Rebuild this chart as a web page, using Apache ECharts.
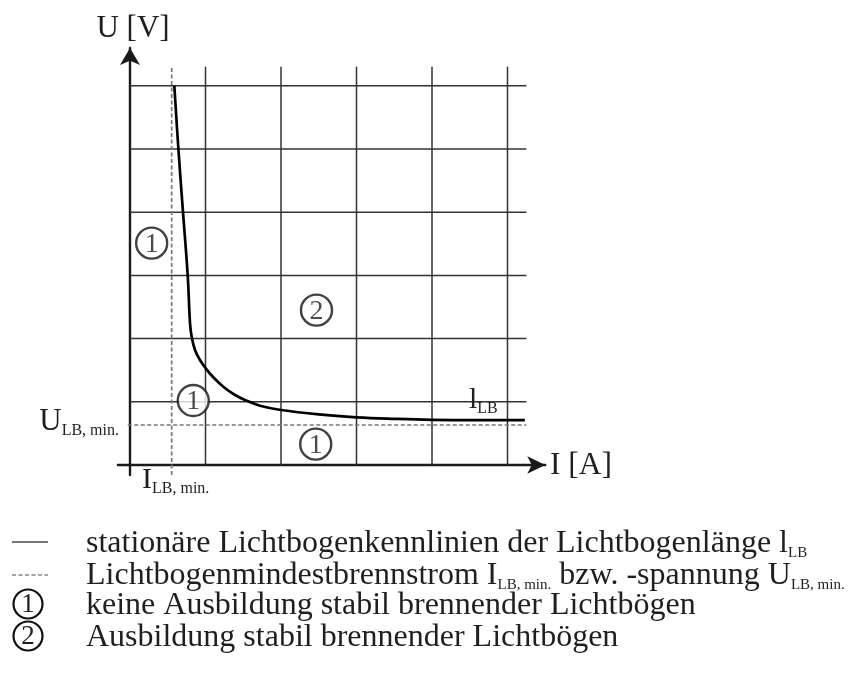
<!DOCTYPE html>
<html>
<head>
<meta charset="utf-8">
<script src="https://cdn.jsdelivr.net/npm/echarts@6/dist/echarts.min.js"></script>
<style>
  html, body { margin: 0; padding: 0; background: #ffffff; }
  #chart { width: 849px; height: 675px; }
</style>
</head>
<body>
<div id="chart"></div>
<script>
// Stationary arc characteristic U(I) for the arc length l_LB (in grid units)
const arcCurrent = [0.587, 0.641, 0.702, 0.764, 0.795, 0.817, 0.861, 0.927, 1.003, 1.103, 1.236,
                    1.391, 1.546, 1.722, 2.000, 2.500, 3.000, 3.500, 4.000, 4.600, 5.230];
const arcVoltage = [6.00, 5.00, 4.00, 3.006, 2.242, 2.030, 1.820, 1.661, 1.530, 1.388, 1.239,
                    1.108, 1.017, 0.938, 0.870, 0.80, 0.755, 0.73, 0.714, 0.71, 0.71];

// Minimum arc current I_LB,min and minimum arc voltage U_LB,min
const minCurrent = 0.552;
const minVoltage = 0.633;

// Grid divisions
const currentTicks = [1, 2, 3, 4, 5];
const voltageTicks = [1, 2, 3, 4, 5, 6];
const gridTopVoltage = 6.30;
const gridEndCurrent = 5.25;

// Region markers: 1 = no stable arc, 2 = stable arc
const regionLabels = ['1', '2', '1', '1'];
const regionCurrent = [0.287, 2.47, 0.838, 2.46];
const regionVoltage = [3.51, 2.45, 1.02, 0.33];

// Legend texts
const legendTexts = [
  [['m', 'stationäre Lichtbogenkennlinien der Lichtbogenlänge l'], ['s', 'LB']],
  [['m', 'Lichtbogenmindestbrennstrom I'], ['s', 'LB, min.'], ['m', ' bzw. -spannung U'], ['s', 'LB, min.']],
  [['m', 'keine Ausbildung stabil brennender Lichtbögen']],
  [['m', 'Ausbildung stabil brennender Lichtbögen']]
];

const SERIF = '"Liberation Serif", "Times New Roman", serif';
const TEXT_COLOR = '#1f1f1f';
const GRID_COLOR = '#333333';
const DASH_COLOR = '#777777';

const X_MIN = -0.16, X_MAX = 5.5, Y_MIN = -0.16, Y_MAX = 6.6;

function segmentSeries(points, style, z) {
  return {
    type: 'line', data: points, showSymbol: false, symbol: 'none', silent: true,
    lineStyle: style, z: z, animation: false, clip: false
  };
}

const series = [];

// grid lines
currentTicks.forEach(function (x) {
  series.push(segmentSeries([[x, 0], [x, gridTopVoltage]], { color: GRID_COLOR, width: 1.5 }, 1));
});
voltageTicks.forEach(function (y) {
  series.push(segmentSeries([[0, y], [gridEndCurrent, y]], { color: GRID_COLOR, width: 1.5 }, 1));
});

// minimum current / voltage (dashed)
series.push(segmentSeries([[minCurrent, Y_MIN], [minCurrent, gridTopVoltage]],
  { color: DASH_COLOR, width: 1.7, type: [4, 2.5] }, 2));
series.push(segmentSeries([[-0.03, minVoltage], [gridEndCurrent, minVoltage]],
  { color: DASH_COLOR, width: 1.7, type: [4, 2.5] }, 2));

// arc characteristic
series.push({
  type: 'line',
  data: arcCurrent.map(function (x, i) { return [x, arcVoltage[i]]; }),
  showSymbol: false, symbol: 'none', smooth: 0.4, silent: true,
  lineStyle: { color: '#000000', width: 2.7 }, z: 3, animation: false
});

// region markers
series.push({
  type: 'scatter',
  data: regionCurrent.map(function (x, i) { return { name: regionLabels[i], value: [x, regionVoltage[i]] }; }),
  symbol: 'circle', symbolSize: 31, silent: true, z: 5, animation: false,
  itemStyle: { color: '#ffffff', borderColor: '#111111', borderWidth: 2.4 },
  label: {
    show: true, position: 'inside', formatter: '{b}',
    fontFamily: SERIF, fontSize: 28, color: TEXT_COLOR, offset: [0, 1]
  }
});

// text with subscripts; baseline given in pixels
function richText(x, baseline, align, parts, mainSize, subSize) {
  mainSize = mainSize || 32;
  subSize = subSize || 16;
  const lineH = 34;
  return {
    type: 'text', x: x, y: baseline - 27, silent: true, z: 10,
    style: {
      text: parts.map(function (p) { return '{' + p[0] + '|' + p[1] + '}'; }).join(''),
      align: align, textAlign: align, verticalAlign: 'top', textVerticalAlign: 'top',
      rich: {
        m: { fontFamily: SERIF, fontSize: mainSize, lineHeight: lineH, fill: TEXT_COLOR, color: TEXT_COLOR },
        s: { fontFamily: SERIF, fontSize: subSize, lineHeight: 12, verticalAlign: 'bottom', fill: TEXT_COLOR, color: TEXT_COLOR }
      }
    }
  };
}

const graphics = [
  richText(133, 39, 'center', [['m', 'U [V]']], 31),
  richText(550, 476, 'left', [['m', 'I [A]']], 31.5),
  richText(119, 432, 'right', [['m', 'U'], ['s', 'LB, min.']], 31),
  richText(142, 490, 'left', [['m', 'I'], ['s', 'LB, min.']], 30),
  richText(469, 410, 'left', [['m', 'l'], ['s', 'LB']], 30)
];

// legend
const legendBase = [554, 586, 616, 648];
legendTexts.forEach(function (parts, i) {
  graphics.push(richText(86, legendBase[i], 'left', parts, 32, 15));
});
graphics.push({ type: 'line', silent: true, shape: { x1: 12, y1: legendBase[0] - 12, x2: 48, y2: legendBase[0] - 12 },
  style: { stroke: '#777777', lineWidth: 2 } });
graphics.push({ type: 'line', silent: true, shape: { x1: 12, y1: legendBase[1] - 11, x2: 48, y2: legendBase[1] - 11 },
  style: { stroke: '#888888', lineWidth: 1.5, lineDash: [4, 2.5] } });
['1', '2'].forEach(function (d, i) {
  const cy = legendBase[2 + i] - 12;
  graphics.push({ type: 'circle', silent: true, shape: { cx: 28, cy: cy, r: 14.5 },
    style: { fill: '#ffffff', stroke: '#111111', lineWidth: 2.2 } });
  graphics.push({ type: 'text', silent: true, x: 28, y: cy + 1,
    style: { text: d, fontFamily: SERIF, fontSize: 27, fill: TEXT_COLOR,
      align: 'center', textAlign: 'center', verticalAlign: 'middle', textVerticalAlign: 'middle' } });
});

const chart = echarts.init(document.getElementById('chart'), null, { renderer: 'canvas' });
chart.setOption({
  backgroundColor: '#ffffff',
  animation: false,
  grid: { left: 117.92, top: 47.88, width: 427.33, height: 427.23, containLabel: false, outerBoundsMode: 'none' },
  xAxis: {
    type: 'value', min: X_MIN, max: X_MAX,
    axisLine: { show: true, onZero: true, symbol: ['none', 'arrow'], symbolSize: [13, 18],
      lineStyle: { color: '#1a1a1a', width: 2.4 } },
    axisTick: { show: false }, axisLabel: { show: false }, splitLine: { show: false }
  },
  yAxis: {
    type: 'value', min: Y_MIN, max: Y_MAX,
    axisLine: { show: true, onZero: true, symbol: ['none', 'arrow'], symbolSize: [15, 17],
      lineStyle: { color: '#1a1a1a', width: 2.4 } },
    axisTick: { show: false }, axisLabel: { show: false }, splitLine: { show: false }
  },
  series: series,
  graphic: { elements: graphics }
});
</script>
</body>
</html>
